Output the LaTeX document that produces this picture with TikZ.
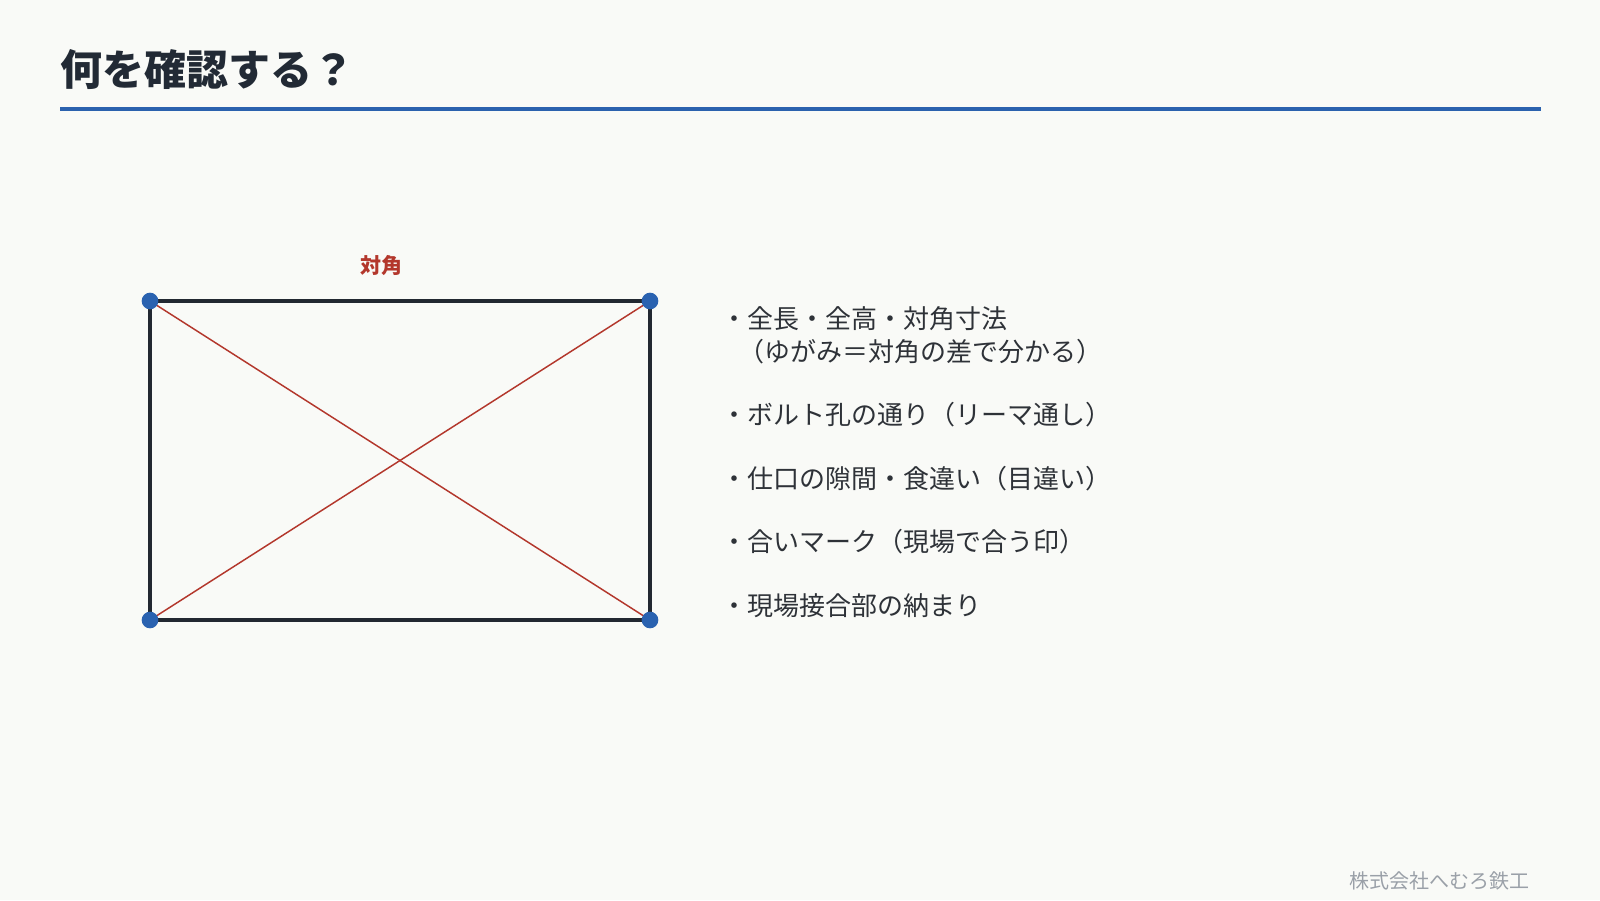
\documentclass[tikz,border=0pt]{standalone}
\usepackage{fontspec}
\setmainfont{Noto Sans CJK JP}
\newfontfamily\jpfont{Noto Sans CJK JP}
\definecolor{bgcol}{HTML}{F9FAF7}
\definecolor{titlecol}{HTML}{222A35}
\definecolor{rulecol}{HTML}{2B62AE}
\definecolor{framecol}{HTML}{222831}
\definecolor{diagcol}{HTML}{B3372C}
\definecolor{dotcol}{HTML}{2A62B0}
\definecolor{textcol}{HTML}{2E3238}
\definecolor{footcol}{HTML}{9AA0A8}
\tikzset{
  titletext/.style={anchor=base west, inner sep=0pt, text=titlecol, font=\jpfont\bfseries\fontsize{31.5pt}{36pt}\selectfont},
  itemtext/.style={anchor=base west, inner sep=0pt, text=textcol, font=\jpfont\fontsize{19.5pt}{24pt}\selectfont},
  labeltext/.style={anchor=base, inner sep=0pt, text=diagcol, font=\jpfont\bfseries\fontsize{15.75pt}{18pt}\selectfont},
  foottext/.style={anchor=base east, inner sep=0pt, text=footcol, font=\jpfont\fontsize{15pt}{18pt}\selectfont},
  cornerdot/.style={circle, fill=dotcol, inner sep=0pt, minimum size=12.5pt},
  frame/.style={draw=framecol, line width=2.6pt},
  diag/.style={draw=diagcol, line width=1.1pt},
}
\begin{document}
\begin{tikzpicture}[x=0.75pt, y=-0.75pt]
\useasboundingbox (0,0) rectangle (1600,900);
\fill[bgcol] (0,0) rectangle (1600,900);
% title
\node[titletext] (title) at (60,85) {何を確認する？};
\coordinate (ruleL) at (60,109);
\coordinate (ruleR) at (1541,109);
\draw[rulecol, line width=3pt] (ruleL) -- (ruleR);
% rectangle
\coordinate (tl) at (150,301);
\coordinate (tr) at (650,301);
\coordinate (bl) at (150,620);
\coordinate (br) at (650,620);
\draw[frame] (tl) -- (tr) -- (br) -- (bl) -- cycle;
\draw[diag] (tl) -- (br);
\draw[diag] (bl) -- (tr);
\node[cornerdot] (dtl) at (tl) {};
\node[cornerdot] (dtr) at (tr) {};
\node[cornerdot] (dbl) at (bl) {};
\node[cornerdot] (dbr) at (br) {};
\node[labeltext] (lbl) at (381,273) {対角};
% list
\node[itemtext] (i1) at (721,328) {・全長・全高・対角寸法};
\node[itemtext] (i1b) at (738,361) {（ゆがみ＝対角の差で分かる）};
\node[itemtext] (i2) at (721,424) {・ボルト孔の通り（リーマ通し）};
\node[itemtext] (i3) at (721,488) {・仕口の隙間・食違い（目違い）};
\node[itemtext] (i4) at (721,551) {・合いマーク（現場で合う印）};
\node[itemtext] (i5) at (721,615) {・現場接合部の納まり};
% footer
\node[foottext] (foot) at (1530,888) {株式会社へむろ鉄工};
\end{tikzpicture}
\end{document}
